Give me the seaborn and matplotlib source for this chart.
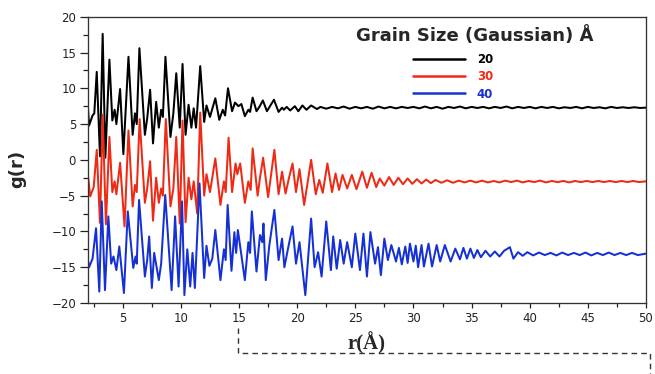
import matplotlib
matplotlib.use("Agg")
import matplotlib.pyplot as plt
from matplotlib.ticker import MultipleLocator
from matplotlib.lines import Line2D
import seaborn as sns
import pandas as pd

# ---------------- data ----------------
series_labels = ["20", "30", "40"]
series_colors = ["#000000", "#ee2a16", "#1531d6"]
x_ticks = [5, 10, 15, 20, 25, 30, 35, 40, 45, 50]
y_ticks = [-20, -15, -10, -5, 0, 5, 10, 15, 20]

g20 = [(2.0, 7.4), (2.1, 4.8), (2.4, 6.2), (2.55, 6.5), (2.76, 12.3), (3.04, 0.5), (3.27, 17.6),
       (3.5, 0.3), (3.85, 14.0), (4.1, 5.5), (4.3, 7.0), (4.45, 5.0), (4.77, 9.9), (5.05, 0.8),
       (5.49, 14.4), (5.85, 3.5), (6.05, 6.5), (6.2, 5.0), (6.43, 15.6), (6.9, 3.5), (7.1, 5.8),
       (7.35, 9.8), (7.6, 2.3), (7.87, 8.1), (8.1, 4.5), (8.3, 7.0), (8.45, 6.0), (8.67, 14.4),
       (9.1, 3.2), (9.35, 6.5), (9.6, 12.1), (9.9, 4.5), (10.14, 13.4), (10.4, 3.5), (10.66, 7.7),
       (10.9, 4.5), (11.1, 7.2), (11.3, 4.5), (11.66, 13.1), (12.0, 5.3), (12.2, 7.6), (12.5, 6.0),
       (12.96, 8.6), (13.3, 5.6), (13.6, 7.0), (13.8, 6.2), (14.05, 10.0), (14.4, 6.8), (14.65, 8.0),
       (14.95, 7.5), (15.2, 7.8), (15.5, 6.1), (15.8, 7.0), (15.95, 6.7), (16.17, 8.7), (16.5, 6.8),
       (16.75, 7.4), (17.05, 8.3), (17.4, 6.8), (18.0, 8.4), (18.4, 6.7), (18.7, 7.3), (18.85, 7.0),
       (19.1, 7.4), (19.4, 6.9), (19.8, 7.5), (20.1, 6.8), (20.45, 7.6), (20.8, 7.0), (21.2, 7.6),
       (21.7, 7.1), (22.0, 7.4), (22.5, 7.15), (23.0, 7.4), (23.5, 7.2), (24.0, 7.45), (24.5, 7.15),
       (25.0, 7.4), (25.5, 7.2), (26.0, 7.4), (26.5, 7.15), (27.0, 7.45), (27.5, 7.2), (28.0, 7.4),
       (28.5, 7.2), (29.0, 7.4), (29.5, 7.25), (30.0, 7.4), (30.5, 7.2), (31.0, 7.45), (31.5, 7.2),
       (32.0, 7.4), (32.5, 7.15), (33.0, 7.4), (33.5, 7.25), (34.0, 7.45), (34.5, 7.2), (35.0, 7.4),
       (35.5, 7.25), (36.0, 7.4), (36.5, 7.2), (37.0, 7.4), (37.5, 7.25), (38.0, 7.45), (38.5, 7.2),
       (39.0, 7.4), (39.5, 7.25), (40.0, 7.4), (40.5, 7.2), (41.0, 7.4), (41.5, 7.25), (42.0, 7.4),
       (42.5, 7.2), (43.0, 7.35), (43.5, 7.25), (44.0, 7.4), (44.5, 7.2), (45.0, 7.4), (45.5, 7.25),
       (46.0, 7.35), (46.5, 7.2), (47.0, 7.4), (47.5, 7.25), (48.0, 7.35), (48.5, 7.25), (49.0, 7.35),
       (49.5, 7.25), (50.0, 7.3)]

g30 = [(2.0, -2.1), (2.2, -5.1), (2.5, -3.8), (2.76, 1.4), (3.04, -8.8), (3.27, 6.3), (3.55, -9.0),
       (3.85, 3.2), (4.1, -4.5), (4.3, -3.0), (4.45, -4.8), (4.77, -0.4), (5.15, -9.3), (5.49, 4.1),
       (5.85, -6.5), (6.05, -3.5), (6.2, -4.5), (6.45, 5.7), (6.9, -6.0), (7.1, -4.0), (7.35, -0.2),
       (7.6, -8.5), (7.87, -2.5), (8.1, -6.0), (8.3, -4.0), (8.45, -5.0), (8.7, 5.7), (9.1, -6.5),
       (9.35, -4.0), (9.6, 3.2), (9.9, -8.9), (10.14, 5.5), (10.4, -8.7), (10.66, -2.5), (10.9, -5.5),
       (11.1, -3.0), (11.4, -7.5), (11.66, 6.6), (12.0, -5.0), (12.2, -2.0), (12.5, -4.5), (12.96, 0.2),
       (13.4, -6.3), (13.7, -3.0), (13.85, -4.5), (14.1, 3.1), (14.4, -4.5), (14.7, -0.5), (14.85, -2.0),
       (15.1, -0.5), (15.5, -6.0), (15.8, -3.0), (16.0, -4.2), (16.17, 1.6), (16.6, -5.0), (16.8, -2.5),
       (17.07, 0.3), (17.5, -5.2), (18.04, 1.4), (18.4, -4.8), (18.7, -1.65), (19.0, -4.7), (19.3, -2.5),
       (19.6, -0.5), (19.9, -4.5), (20.2, -1.3), (20.6, -6.3), (21.2, 0.0), (21.6, -4.8), (21.9, -2.8),
       (22.2, -4.6), (22.6, -0.5), (23.0, -4.5), (23.3, -1.9), (23.6, -4.2), (23.9, -2.1), (24.3, -4.0),
       (24.7, -2.1), (25.1, -4.1), (25.6, -1.65), (26.0, -3.9), (26.4, -1.8), (26.8, -3.8), (27.1, -2.6),
       (27.5, -3.6), (27.9, -2.4), (28.3, -3.5), (28.7, -2.5), (29.1, -3.4), (29.5, -2.6), (29.9, -3.35),
       (30.3, -2.7), (30.7, -3.3), (31.1, -2.75), (31.5, -3.25), (31.9, -2.8), (32.4, -3.2), (32.9, -2.85),
       (33.4, -3.2), (33.9, -2.9), (34.4, -3.15), (34.9, -2.9), (35.4, -3.15), (35.9, -2.9), (36.4, -3.15),
       (36.9, -2.95), (37.4, -3.15), (37.9, -2.9), (38.4, -3.1), (38.9, -2.9), (39.4, -3.15), (39.9, -2.95),
       (40.4, -3.1), (40.9, -2.9), (41.4, -3.15), (41.9, -2.95), (42.4, -3.1), (42.9, -2.95), (43.4, -3.15),
       (43.9, -2.95), (44.4, -3.1), (44.9, -2.95), (45.4, -3.1), (45.9, -2.95), (46.4, -3.1), (46.9, -2.95),
       (47.4, -3.1), (47.9, -2.95), (48.4, -3.1), (48.9, -2.95), (49.4, -3.1), (50.0, -3.0)]

g40 = [(2.0, -14.0), (2.1, -15.0), (2.4, -13.8), (2.7, -9.55), (2.98, -18.4), (3.19, -5.8), (3.47, -18.2),
       (3.76, -7.9), (4.0, -14.5), (4.2, -13.5), (4.45, -15.4), (4.7, -12.1), (5.1, -18.6), (5.43, -7.2),
       (5.9, -15.1), (6.1, -13.5), (6.2, -14.5), (6.4, -5.6), (6.9, -16.3), (7.1, -14.0), (7.27, -10.7),
       (7.5, -17.9), (7.7, -13.0), (8.1, -16.8), (8.3, -14.5), (8.65, -4.9), (9.2, -18.2), (9.5, -7.9),
       (9.8, -17.7), (10.1, -5.8), (10.3, -18.9), (10.55, -12.5), (10.8, -17.7), (11.0, -13.0),
       (11.2, -17.9), (11.6, -3.3), (12.0, -16.5), (12.2, -12.0), (12.45, -14.8), (12.7, -13.8),
       (12.96, -9.8), (13.4, -16.8), (13.7, -12.5), (13.85, -14.0), (14.02, -6.3), (14.35, -15.5),
       (14.6, -10.1), (14.75, -13.0), (14.9, -9.8), (15.5, -16.8), (15.8, -11.5), (15.95, -13.0),
       (16.1, -7.2), (16.5, -15.6), (16.8, -10.5), (17.0, -11.5), (17.1, -8.9), (17.3, -16.8),
       (17.6, -12.0), (18.04, -7.0), (18.4, -14.0), (18.7, -11.0), (18.9, -15.0), (19.2, -12.5),
       (19.6, -9.3), (19.9, -14.5), (20.2, -11.5), (20.7, -18.9), (21.2, -8.2), (21.5, -15.0),
       (21.8, -12.9), (22.1, -16.3), (22.5, -8.6), (22.9, -15.4), (23.1, -10.7), (23.4, -15.2),
       (23.7, -11.2), (24.0, -14.5), (24.3, -11.5), (24.7, -15.0), (25.0, -10.3), (25.4, -15.4),
       (25.7, -10.3), (26.0, -16.3), (26.3, -10.1), (26.7, -14.5), (26.95, -12.2), (27.2, -16.1),
       (27.5, -11.0), (27.8, -14.0), (28.1, -11.9), (28.5, -14.2), (28.75, -12.3), (29.0, -14.6),
       (29.3, -12.1), (29.5, -14.4), (29.7, -11.7), (30.0, -14.2), (30.2, -12.0), (30.4, -15.0),
       (30.7, -11.9), (30.9, -14.9), (31.3, -11.7), (31.6, -14.9), (32.0, -11.9), (32.3, -14.2),
       (32.7, -11.9), (33.2, -14.2), (33.6, -12.4), (34.0, -13.9), (34.3, -12.3), (34.6, -13.8),
       (34.9, -12.4), (35.2, -13.7), (35.5, -12.6), (35.8, -13.6), (36.2, -12.7), (36.6, -13.5),
       (37.0, -12.8), (37.4, -13.5), (37.8, -12.7), (38.3, -12.2), (38.6, -13.8), (39.0, -12.9),
       (39.4, -13.4), (39.8, -12.9), (40.3, -13.35), (40.8, -12.95), (41.3, -13.3), (41.8, -13.0),
       (42.3, -13.35), (42.8, -12.95), (43.3, -13.3), (43.8, -13.0), (44.3, -13.3), (44.8, -12.95),
       (45.3, -13.35), (45.8, -13.0), (46.3, -13.3), (46.8, -12.95), (47.3, -13.3), (47.8, -13.0),
       (48.3, -13.3), (48.8, -13.0), (49.3, -13.3), (50.0, -13.1)]

# ---------------- build a long table ----------------
rows = []
for lab, pts in zip(series_labels, [g20, g30, g40]):
    for r, g in pts:
        rows.append({"r": r, "g": g, "size": lab})
df = pd.DataFrame(rows)

sns.set_style("ticks")
plt.rcParams["font.family"] = ["DejaVu Sans"]

fig = plt.figure(figsize=(6.55, 3.74), dpi=100)
ax = fig.add_axes([0.1342, 0.1898, 0.852, 0.7655])

sns.lineplot(data=df, x="r", y="g", hue="size", hue_order=series_labels,
             palette=dict(zip(series_labels, series_colors)), estimator=None,
             sort=False, linewidth=1.45, ax=ax, legend=False)

ax.set_xlim(2, 50)
ax.set_ylim(-20, 20)
ax.set_xticks(x_ticks)
ax.set_yticks(y_ticks)
ax.xaxis.set_minor_locator(MultipleLocator(2.5))
ax.yaxis.set_minor_locator(MultipleLocator(2.5))
ax.tick_params(axis="both", which="both", direction="out", colors="#222222",
               labelsize=8.5, top=False, right=False)
ax.tick_params(axis="y", which="major", length=5.5, width=0.9, pad=3)
ax.tick_params(axis="y", which="minor", length=3.5, width=0.9)
ax.tick_params(axis="x", which="major", length=3.8, width=0.9, pad=3)
ax.tick_params(axis="x", which="minor", length=2.8, width=0.9)
for s in ax.spines.values():
    s.set_visible(True)
    s.set_linewidth(0.95)
    s.set_color("#333333")

ax.set_ylabel("g(r)", fontsize=13, fontweight="bold")
ax.yaxis.set_label_coords(-0.11, 0.47)
ax.set_xlabel("r(Å)", fontsize=15, fontweight="bold", family=["Liberation Serif", "DejaVu Serif"])
ax.xaxis.set_label_coords(0.5, -0.1)

# legend title and entries
ax.text(0.694, 0.935, "Grain Size (Gaussian) Å", transform=ax.transAxes,
        ha="center", va="center", fontsize=13, fontweight="bold")
handles = ax.get_lines()[:3]
leg = ax.legend(handles=handles, labels=series_labels, loc="upper left",
                bbox_to_anchor=(413 / 655, 1 - 53 / 374), bbox_transform=fig.transFigure,
                frameon=False, borderpad=0, borderaxespad=0, handlelength=4.4,
                handletextpad=1.0, labelspacing=0.36,
                prop={"size": 8.5, "weight": "bold"})
for t, c in zip(leg.get_texts(), series_colors):
    t.set_color(c)
for l in leg.get_lines():
    l.set_linewidth(1.8)

# dashed bracket below the axes
xs = [238 / 655, 238 / 655, 650 / 655, 650 / 655]
ys = [1 - 328 / 374, 1 - 353 / 374, 1 - 353 / 374, 0.0]
fig.add_artist(Line2D(xs, ys, transform=fig.transFigure, color="#333333",
                      linewidth=1.0, linestyle=(0, (4, 3))))

fig.savefig("out.png", dpi=100)
